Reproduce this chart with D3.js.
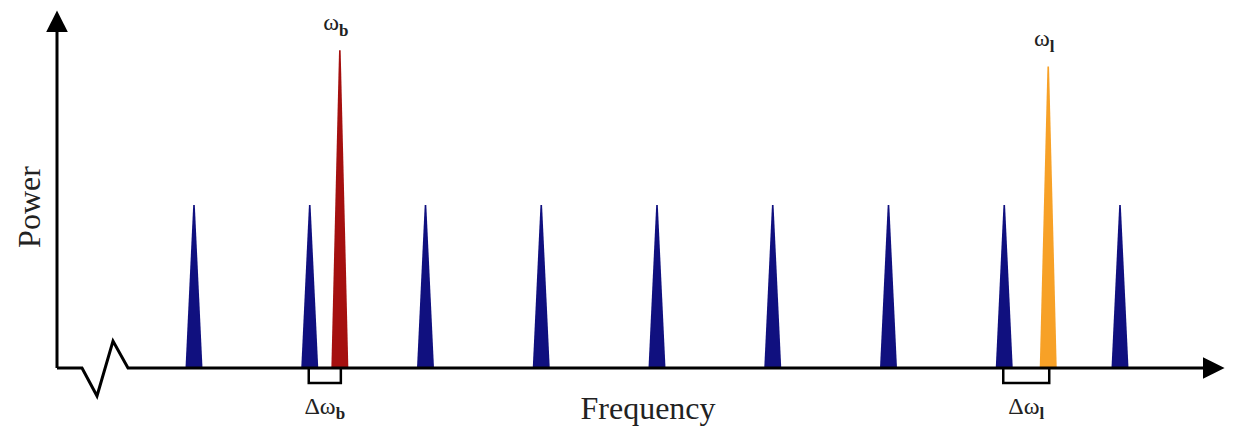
<!DOCTYPE html>
<html>
<head>
<meta charset="utf-8">
<script src="https://cdn.jsdelivr.net/npm/d3@7"></script>
<style>
  body { margin: 0; background: #fff; }
  svg { display: block; }
  text { font-family: "Liberation Serif", "DejaVu Serif", serif; fill: #222; }
</style>
</head>
<body>
<svg width="1235" height="432"></svg>
<script>
// comb lines (index along frequency, relative power)
var combPos = [0, 1, 2, 3, 4, 5, 6, 7, 8];
var combPower = [1, 1, 1, 1, 1, 1, 1, 1, 1];
// probe / laser lines
var lineNames = ["b", "l"];
var linePos = [1.26, 7.38];
var linePower = [1.95, 1.85];
var lineColors = ["#a5100f", "#f7a127"];
// nearest comb tooth for each offset bracket
var bracketFrom = [1, 7];

var svg = d3.select("svg"),
    base = 368;

var x = d3.scaleLinear().domain([0, 8]).range([194, 1120]);
var y = d3.scaleLinear().domain([0, 2]).range([base, 42]);

var halfBase = 8.5, halfTop = 0.8;

function peak(pos, pw) {
    var cx = x(pos);
    return "M" + (cx - halfBase) + "," + y(0) +
        "L" + (cx - halfTop) + "," + y(pw) +
        "L" + (cx + halfTop) + "," + y(pw) +
        "L" + (cx + halfBase) + "," + y(0) + "Z";
}

svg.append("defs").append("marker")
    .attr("id", "arrow")
    .attr("viewBox", "0 0 10 10")
    .attr("refX", 2)
    .attr("refY", 5)
    .attr("markerUnits", "userSpaceOnUse")
    .attr("markerWidth", 22)
    .attr("markerHeight", 22)
    .attr("orient", "auto")
    .append("path")
    .attr("d", "M0,0L10,5L0,10Z")
    .attr("fill", "#000");

// comb peaks
svg.append("g").selectAll("path")
    .data(combPos)
    .enter().append("path")
    .attr("d", function(d, i) { return peak(d, combPower[i]); })
    .attr("fill", "#10107f");

// colored peaks
svg.append("g").selectAll("path")
    .data(linePos)
    .enter().append("path")
    .attr("d", function(d, i) { return peak(d, linePower[i]); })
    .attr("fill", function(d, i) { return lineColors[i]; });

// axes
svg.append("path")
    .attr("d", "M57," + base + "L57,28")
    .attr("stroke", "#000")
    .attr("stroke-width", 3)
    .attr("fill", "none")
    .attr("marker-end", "url(#arrow)");

svg.append("path")
    .attr("d", "M57," + base + "L82," + base + "L97,396L113,341L128," + base + "L1207," + base)
    .attr("stroke", "#000")
    .attr("stroke-width", 3)
    .attr("stroke-linejoin", "miter")
    .attr("fill", "none")
    .attr("marker-end", "url(#arrow)");

// offset brackets
svg.append("g").selectAll("path")
    .data(linePos)
    .enter().append("path")
    .attr("d", function(d, i) {
        var a = x(bracketFrom[i]) - 1, b = x(d) + 1;
        return "M" + a + "," + base + "L" + a + ",383L" + b + ",383L" + b + "," + base;
    })
    .attr("stroke", "#000")
    .attr("stroke-width", 2.5)
    .attr("fill", "none");

// peak labels
var lab = svg.append("g").selectAll("text")
    .data(linePos)
    .enter().append("text")
    .attr("x", function(d) { return x(d) - 4; })
    .attr("y", function(d, i) { return y(linePower[i]) - 20; })
    .attr("text-anchor", "middle")
    .style("font-size", "24px");
lab.append("tspan").text("ω");
lab.append("tspan")
    .attr("dy", 6)
    .style("font-size", "17px")
    .style("font-weight", "bold")
    .text(function(d, i) { return lineNames[i]; });

var dlab = svg.append("g").selectAll("text")
    .data(linePos)
    .enter().append("text")
    .attr("x", function(d, i) { return (x(bracketFrom[i]) + x(d)) / 2; })
    .attr("y", 414)
    .attr("text-anchor", "middle")
    .style("font-size", "24px");
dlab.append("tspan").text("Δω");
dlab.append("tspan")
    .attr("dy", 5)
    .style("font-size", "17px")
    .style("font-weight", "bold")
    .text(function(d, i) { return lineNames[i]; });

svg.append("text")
    .attr("x", 648)
    .attr("y", 419)
    .attr("text-anchor", "middle")
    .style("font-size", "32px")
    .text("Frequency");

svg.append("text")
    .attr("transform", "translate(40,207) rotate(-90)")
    .attr("text-anchor", "middle")
    .style("font-size", "32px")
    .text("Power");
</script>
</body>
</html>
